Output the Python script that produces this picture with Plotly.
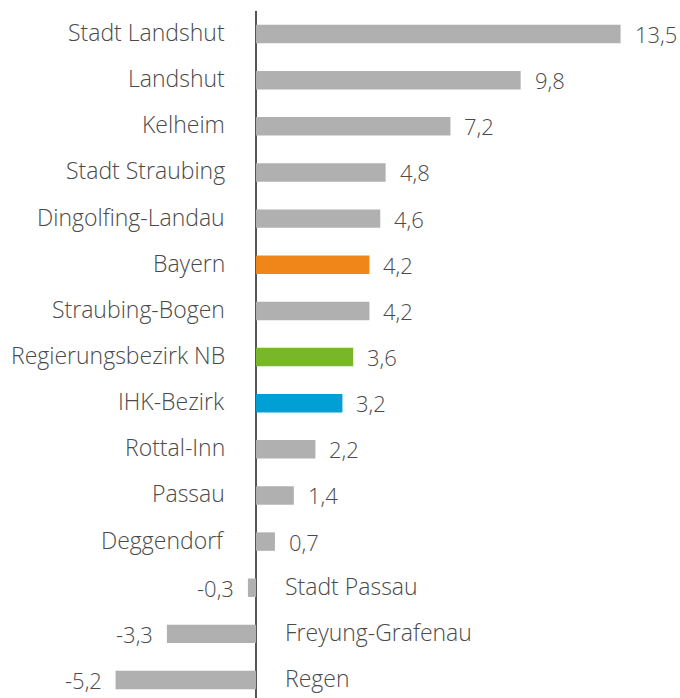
import plotly.graph_objects as go

categories = ["Stadt Landshut", "Landshut", "Kelheim", "Stadt Straubing", "Dingolfing-Landau",
              "Bayern", "Straubing-Bogen", "Regierungsbezirk NB", "IHK-Bezirk", "Rottal-Inn",
              "Passau", "Deggendorf", "Stadt Passau", "Freyung-Grafenau", "Regen"]
values = [13.5, 9.8, 7.2, 4.8, 4.6, 4.2, 4.2, 3.6, 3.2, 2.2, 1.4, 0.7, -0.3, -3.3, -5.2]
highlight = {"Bayern": "#F08519", "Regierungsbezirk NB": "#78B72A", "IHK-Bezirk": "#009FD4"}
base_color = "#B0B0B0"
text_color = "#4A4A4A"
font_family = "Open Sans"

colors = [highlight.get(c, base_color) for c in categories]

fig = go.Figure()
fig.add_trace(go.Bar(
    x=values, y=categories, orientation="h", marker=dict(color=colors, line=dict(width=0)),
    width=0.4, hoverinfo="skip"
))

vfont = dict(size=22, color=text_color, family=font_family, weight=300)
cfont = dict(size=23, color=text_color, family=font_family, weight=300)
for c, v in zip(categories, values):
    lbl = f"{v:.1f}".replace(".", ",")
    if v >= 0:
        fig.add_annotation(x=v, y=c, text=lbl, xanchor="left", xshift=12, showarrow=False,
                           font=vfont, yshift=0)
        fig.add_annotation(x=0, y=c, text=c, xanchor="right", xshift=-29, showarrow=False,
                           font=cfont, yshift=2)
    else:
        fig.add_annotation(x=v, y=c, text=lbl, xanchor="right", xshift=-12, showarrow=False,
                           font=vfont, yshift=0)
        fig.add_annotation(x=0, y=c, text=c, xanchor="left", xshift=27, showarrow=False,
                           font=cfont, yshift=2)

fig.update_layout(
    width=680, height=698,
    margin=dict(l=0, r=0, t=11, b=0),
    plot_bgcolor="white", paper_bgcolor="white",
    showlegend=False,
    xaxis=dict(range=[-9.48, 15.70], showgrid=False, showticklabels=False, zeroline=True,
               zerolinecolor="#555555", zerolinewidth=2, fixedrange=True),
    yaxis=dict(range=[14.39, -0.5], showgrid=False, showticklabels=False, zeroline=False,
               fixedrange=True),
)

fig.write_html("out.html", config={"displayModeBar": False},
               post_script="document.body.style.margin='0';document.body.style.overflow='hidden';")
